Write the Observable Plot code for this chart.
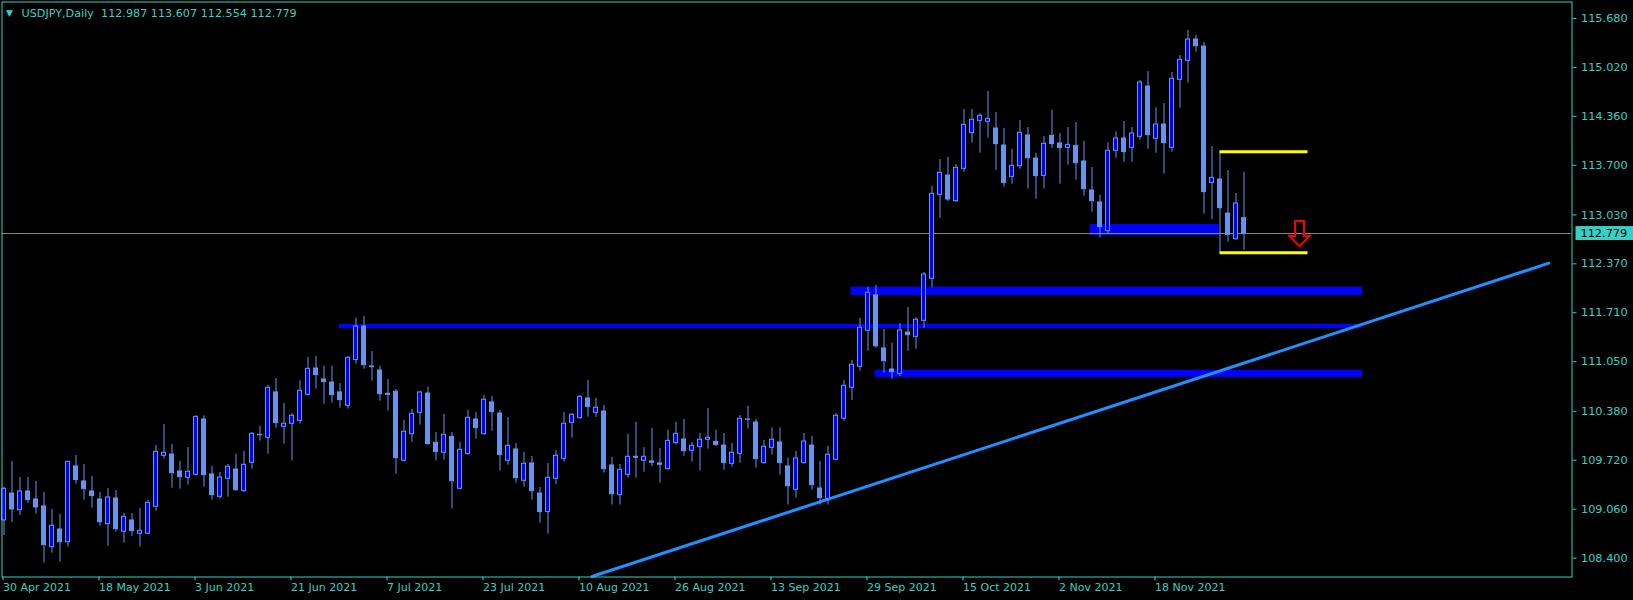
<!DOCTYPE html>
<html>
<head>
<meta charset="utf-8">
<script src="https://cdn.jsdelivr.net/npm/d3@7"></script>
<script src="https://cdn.jsdelivr.net/npm/@observablehq/plot@0.6"></script>
<style>
html,body{margin:0;padding:0;background:#000;overflow:hidden}
#chart{width:1633px;height:600px;position:relative}
</style>
</head>
<body>
<div id="chart"></div>
<script>
// ---- header ----
const symbolName = "USDJPY,Daily";
const headerOHLC = [112.987, 113.607, 112.554, 112.779];
const lastPrice = 112.779;

// ---- daily candles (index 0 = 30 Apr 2021 ... 155 = 3 Dec 2021) ----
const opens = [108.908,109.272,109.047,109.299,109.191,109.097,108.548,108.786,108.615,109.636,
109.434,109.299,109.191,108.858,109.204,108.755,108.908,108.728,108.728,109.092,
109.780,109.798,109.569,109.483,109.524,110.270,109.528,109.227,109.470,109.596,
109.303,109.686,110.063,110.023,110.635,110.171,110.212,110.252,110.603,110.958,
110.810,110.769,110.635,110.455,111.071,111.525,110.985,110.931,110.617,110.644,
109.713,110.072,110.360,110.621,109.955,109.821,110.036,109.335,109.803,110.270,
110.072,110.500,110.351,109.713,109.866,109.443,109.677,109.272,109.020,109.470,
109.740,110.225,110.288,110.554,110.360,110.378,109.650,109.249,109.524,109.767,
109.713,109.704,109.677,109.600,109.951,110.000,109.848,109.897,109.996,109.969,
109.919,109.672,109.807,110.270,110.230,109.681,109.888,109.960,109.636,109.321,
109.681,109.919,109.339,109.200,109.726,110.280,110.698,110.981,111.467,111.943,
111.228,110.945,110.886,111.444,111.385,111.601,112.168,113.301,113.562,113.216,
113.652,114.133,114.299,114.286,114.196,113.967,113.544,113.688,114.102,113.791,
113.557,114.097,113.994,113.935,113.962,113.751,113.360,113.198,112.811,113.895,
114.061,113.935,114.084,114.763,114.057,114.250,113.935,114.853,115.109,115.397,
115.302,113.463,113.508,113.049,112.703,112.987];
const highs = [109.357,109.704,109.488,109.488,109.434,109.285,109.056,108.989,109.704,109.785,
109.663,109.501,109.285,109.339,109.312,109.002,109.002,109.070,109.177,109.919,
110.203,109.933,109.704,109.892,110.320,110.320,109.636,109.555,109.663,109.798,
109.839,110.095,110.176,110.729,110.823,110.486,110.351,110.792,111.107,111.120,
110.985,110.985,110.756,111.120,111.637,111.660,111.188,110.985,110.810,110.675,
110.257,110.405,110.648,110.706,110.095,110.338,110.095,109.960,110.392,110.365,
110.594,110.581,110.392,110.297,109.946,109.825,109.771,109.353,109.677,109.848,
110.365,110.351,110.594,110.796,110.554,110.459,109.758,109.663,110.068,110.230,
109.892,110.149,109.879,110.122,110.230,110.270,109.960,110.081,110.419,110.122,
110.081,109.946,110.324,110.446,110.270,109.987,110.158,110.158,109.749,109.839,
110.081,110.041,109.704,109.906,110.351,110.796,111.066,111.633,112.055,112.078,
111.484,111.300,111.565,111.781,111.646,112.253,113.414,113.778,113.809,113.710,
114.452,114.452,114.398,114.695,114.412,114.196,113.913,114.304,114.210,113.863,
114.088,114.439,114.129,114.210,114.277,114.021,113.670,113.297,114.003,114.151,
114.290,114.210,114.844,114.965,114.475,114.533,114.952,115.181,115.518,115.451,
115.356,113.953,113.881,113.629,113.319,113.607];
const lows = [108.705,108.881,108.975,109.137,108.993,108.332,108.467,108.346,108.548,109.398,
109.182,109.074,108.831,108.561,108.750,108.602,108.696,108.548,108.719,109.034,
109.735,109.344,109.330,109.384,109.506,109.357,109.182,109.195,109.222,109.303,
109.290,109.600,109.978,109.803,110.153,109.937,109.708,110.207,110.585,110.679,
110.477,110.491,110.423,110.410,111.017,110.949,110.787,110.518,110.383,109.533,
109.695,109.964,110.194,109.924,109.708,109.722,109.061,109.326,109.789,110.005,
110.059,110.113,109.573,109.654,109.411,109.357,109.182,108.872,108.723,109.393,
109.695,110.018,110.275,110.302,110.297,109.546,109.115,109.115,109.479,109.479,
109.560,109.636,109.411,109.587,109.928,109.776,109.695,109.573,109.870,109.910,
109.587,109.627,109.681,110.140,109.614,109.668,109.789,109.519,109.115,109.209,
109.668,109.317,109.115,109.115,109.713,110.247,110.527,110.922,111.192,111.232,
110.895,110.810,110.850,111.192,111.219,111.502,112.046,112.986,113.211,113.198,
113.607,113.998,113.863,114.066,113.634,113.405,113.445,113.647,113.378,113.243,
113.378,113.926,113.445,113.701,113.499,113.283,113.067,112.721,112.779,113.796,
113.742,113.742,114.039,113.917,113.863,113.580,113.877,114.470,114.808,115.226,
113.040,112.968,112.519,112.663,112.690,112.554];
const closes = [109.335,109.056,109.299,109.182,109.083,108.575,108.836,108.615,109.699,109.452,
109.330,109.236,108.885,109.218,108.791,108.957,108.764,108.768,109.146,109.834,
109.821,109.546,109.492,109.564,110.306,109.519,109.249,109.488,109.632,109.317,
109.659,110.077,110.059,110.697,110.221,110.212,110.320,110.657,110.954,110.868,
110.774,110.599,110.531,111.102,111.525,111.003,110.976,110.612,110.603,109.749,
110.104,110.347,110.635,109.937,109.830,110.063,109.438,109.861,110.293,110.153,
110.536,110.369,109.789,109.915,109.479,109.672,109.303,109.020,109.483,109.780,
110.212,110.333,110.576,110.437,110.428,109.600,109.263,109.591,109.767,109.753,
109.767,109.686,109.659,109.982,110.077,109.843,109.915,109.996,110.023,109.924,
109.681,109.821,110.279,110.266,109.735,109.901,109.996,109.681,109.371,109.744,
109.973,109.384,109.209,109.794,110.320,110.725,111.008,111.507,111.980,111.259,
111.057,110.909,111.471,111.408,111.615,112.226,113.315,113.598,113.238,113.665,
114.245,114.313,114.367,114.326,113.985,113.459,113.692,114.138,113.796,113.553,
113.989,113.985,113.931,113.976,113.728,113.378,113.216,112.865,113.895,114.061,
113.877,114.129,114.817,114.106,114.250,113.998,114.866,115.122,115.397,115.307,
113.337,113.530,113.121,112.761,113.184,112.779];

// ---- axes ----
const dateTickIndex = [0,12,24,36,48,60,72,84,96,108,120,132,144];
const dateTickLabels = ["30 Apr 2021","18 May 2021","3 Jun 2021","21 Jun 2021","7 Jul 2021",
  "23 Jul 2021","10 Aug 2021","26 Aug 2021","13 Sep 2021","29 Sep 2021","15 Oct 2021",
  "2 Nov 2021","18 Nov 2021"];
const priceTicks = [115.680,115.020,114.360,113.700,113.030,112.370,111.710,111.050,110.380,109.720,109.060,108.400];

// ---- drawn objects ----
const zoneStart  = [135.8, 105.9, 41.9, 108.9];
const zoneEnd    = [151.9, 169.8, 169.8, 169.8];
const zoneTop    = [112.901, 112.055, 111.552, 110.935];
const zoneBottom = [112.753, 111.943, 111.498, 110.837];
const trendIndex = [73.5, 193.1];
const trendPrice = [108.152, 112.379];
const yellowStart = 152, yellowEnd = 163.0;
const yellowLevels = [113.881, 112.519];
const arrowIndex = 162, arrowPrice = 112.94;

const teal = "#36d1c4";
const font = "'DejaVu Sans', Verdana, sans-serif";
const candles = opens.map((o, i) => ({i, o, h: highs[i], l: lows[i], c: closes[i], up: closes[i] > o}));
const zones = zoneStart.map((s, k) => ({s, e: zoneEnd[k], t: zoneTop[k], b: zoneBottom[k]}));
const trend = trendIndex.map((x, k) => ({x, y: trendPrice[k]}));

const chart = Plot.plot({
  width: 1633, height: 600,
  marginLeft: 1.5, marginRight: 61.5, marginTop: 1.5, marginBottom: 23.5,
  style: {background: "#000", color: teal, fontFamily: font, fontSize: "11px"},
  x: {domain: [-0.25, 196], axis: null},
  y: {domain: [108.145, 115.903], axis: null},
  color: {type: "identity"},
  marks: [
    Plot.rect(zones, {x1: "s", x2: "e", y1: "b", y2: "t", fill: "#0000ff"}),
    Plot.ruleY([lastPrice], {stroke: "#8a8a8a", strokeWidth: 1}),
    Plot.line(trend, {x: "x", y: "y", stroke: "#1e90ff", strokeWidth: 3}),
    Plot.ruleX(candles, {x: "i", y1: "l", y2: "h", stroke: "#6495ed", strokeWidth: 1}),
    Plot.rect(candles, {x1: d => d.i - 0.25, x2: d => d.i + 0.25, y1: "o", y2: "c",
      fill: d => d.up ? "#0000ff" : "#6495ed", stroke: "#6495ed", strokeWidth: 1}),
    Plot.ruleY(yellowLevels, {x1: yellowStart, x2: yellowEnd, stroke: "#ffff00", strokeWidth: 3}),
    Plot.frame({stroke: teal, strokeWidth: 1}),
    Plot.axisY({anchor: "right", ticks: priceTicks, tickFormat: d => d.toFixed(3), tickSize: 4, tickPadding: 5,
      stroke: teal, fill: teal, label: null, fontSize: 11.3}),
    Plot.axisX({anchor: "bottom", ticks: dateTickIndex, tickFormat: d => dateTickLabels[dateTickIndex.indexOf(d)],
      tickSize: 4, tickPadding: 2, textAnchor: "start", dx: -1, stroke: teal, fill: teal, label: null, fontSize: 11}),
    Plot.text(["\u25BC"], {frameAnchor: "top-left", dx: 4, dy: 11, fill: teal, fontSize: 9, lineAnchor: "middle", textAnchor: "start"}),
    Plot.text([symbolName + "\u00a0\u00a0" + headerOHLC.map(v => v.toFixed(3)).join(" ")],
      {frameAnchor: "top-left", dx: 19.5, dy: 11, fill: teal, fontSize: 11.2, lineAnchor: "middle", textAnchor: "start"})
  ]
});
document.getElementById("chart").appendChild(chart);

// price label on right axis and sell arrow, positioned with the plot's own scales
const svg = d3.select(chart);
const xs = chart.scale("x"), ys = chart.scale("y");
const py = ys.apply(lastPrice);
svg.append("rect").attr("x", 1575.5).attr("y", py - 7).attr("width", 60).attr("height", 14).attr("fill", teal);
svg.append("text").attr("x", 1580.5).attr("y", py).attr("dy", "0.35em").attr("fill", "#000")
  .attr("text-anchor", "start").attr("font-size", 11.3).attr("font-family", font).text(lastPrice.toFixed(3));
const ax = xs.apply(arrowIndex), ay = ys.apply(arrowPrice);
const arrowPath = `M${ax-4.5},${ay} L${ax+4.5},${ay} L${ax+4.5},${ay+15} L${ax+10},${ay+15} L${ax},${ay+25} L${ax-10},${ay+15} L${ax-4.5},${ay+15} Z`;
svg.append("path").attr("d", arrowPath).attr("fill", "none").attr("stroke", "#ff0000").attr("stroke-width", 2);
</script>
</body>
</html>
